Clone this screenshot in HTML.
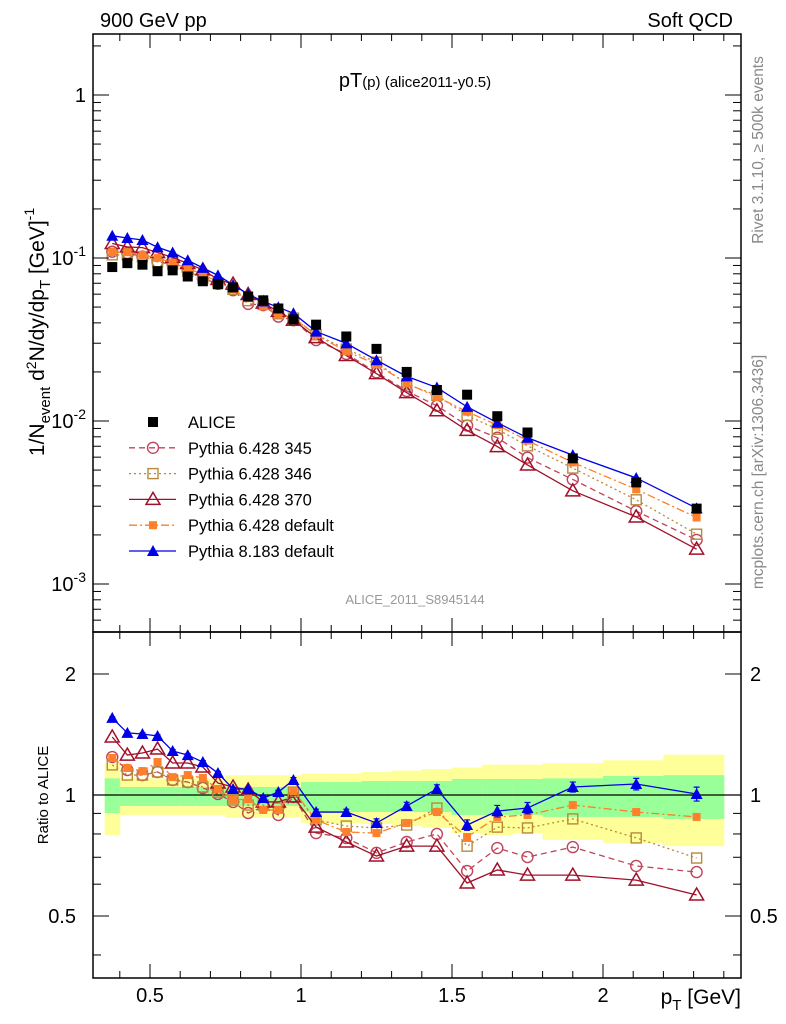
<!DOCTYPE html>
<html><head><meta charset="utf-8"><style>
html,body{margin:0;padding:0;background:#fff;}
svg{display:block;font-family:"Liberation Sans",sans-serif;}
</style></head><body>
<svg id="chart" width="786" height="1024" viewBox="0 0 786 1024">
<g id="bands"></g>
<line x1="93" x2="741" y1="795" y2="795" stroke="#000" stroke-width="1.3"/>
<g id="series"></g>
<g id="axes"></g>
<text x="100" y="27" font-size="20">900 GeV pp</text>
<text x="733" y="27" font-size="20" text-anchor="end">Soft QCD</text>
<text x="415" y="87" font-size="20" text-anchor="middle">pT<tspan font-size="15">(p)</tspan><tspan font-size="15"> (alice2011-y0.5)</tspan></text>
<text x="415" y="604" font-size="13" fill="#999" text-anchor="middle">ALICE_2011_S8945144</text>
<text transform="translate(763,150) rotate(-90)" font-size="15.5" fill="#888" text-anchor="middle">Rivet 3.1.10, ≥ 500k events</text>
<text transform="translate(763,472) rotate(-90)" font-size="15.5" fill="#888" text-anchor="middle">mcplots.cern.ch [arXiv:1306.3436]</text>
<text transform="translate(44,332) rotate(-90)" font-size="21" text-anchor="middle">1/N<tspan font-size="15" dy="6">event</tspan><tspan dy="-6"> d</tspan><tspan font-size="14" dy="-8">2</tspan><tspan dy="8">N/dy/dp</tspan><tspan font-size="15" dy="6">T</tspan><tspan dy="-6"> [GeV]</tspan><tspan font-size="14" dy="-10">-1</tspan></text>
<text transform="translate(48,795) rotate(-90)" font-size="15" text-anchor="middle">Ratio to ALICE</text>
<text x="741" y="1004" font-size="21" text-anchor="end">p<tspan font-size="15" dy="6">T</tspan><tspan dy="-6"> [GeV]</tspan></text>
<g id="legend"></g>
</svg>
<script>
const xVals=[0.375,0.425,0.475,0.525,0.575,0.625,0.675,0.725,0.775,0.825,0.875,0.925,0.975,1.05,1.15,1.25,1.35,1.45,1.55,1.65,1.75,1.9,2.11,2.31];
const binLo=[0.35,0.4,0.45,0.5,0.55,0.6,0.65,0.7,0.75,0.8,0.85,0.9,0.95,1.0,1.1,1.2,1.3,1.4,1.5,1.6,1.7,1.8,2.0,2.2];
const binHi=[0.4,0.45,0.5,0.55,0.6,0.65,0.7,0.75,0.8,0.85,0.9,0.95,1.0,1.1,1.2,1.3,1.4,1.5,1.6,1.7,1.8,2.0,2.2,2.4];
const alice=[0.088,0.093,0.091,0.083,0.084,0.077,0.072,0.069,0.066,0.058,0.055,0.049,0.042,0.039,0.033,0.0277,0.020,0.0155,0.0145,0.0107,0.0085,0.0059,0.0042,0.0029];
const r345=[1.243,1.154,1.121,1.141,1.09,1.077,1.041,1.006,0.961,0.902,0.934,0.892,0.989,0.804,0.782,0.718,0.764,0.8,0.647,0.738,0.701,0.742,0.666,0.643];
const r346=[1.188,1.121,1.121,1.141,1.09,1.077,1.047,1.017,0.972,0.944,0.944,0.928,1.017,0.867,0.837,0.828,0.842,0.928,0.746,0.832,0.828,0.872,0.782,0.697];
const r370=[1.394,1.257,1.272,1.301,1.201,1.201,1.174,1.071,1.047,1.029,0.961,0.961,0.989,0.832,0.764,0.705,0.746,0.746,0.604,0.651,0.632,0.632,0.614,0.564];
const rDef=[1.236,1.167,1.147,1.208,1.108,1.121,1.102,1.035,0.972,0.977,0.918,0.918,1.023,0.867,0.809,0.804,0.852,0.907,0.786,0.882,0.892,0.944,0.907,0.882];
const rP8=[1.555,1.427,1.418,1.402,1.287,1.257,1.208,1.134,1.035,1.035,0.983,1.017,1.09,0.907,0.907,0.852,0.939,1.035,0.842,0.912,0.928,1.047,1.065,1.006];
const errP8=[0.01,0.01,0.01,0.01,0.01,0.01,0.01,0.01,0.01,0.01,0.01,0.01,0.015,0.015,0.015,0.02,0.02,0.025,0.025,0.03,0.03,0.03,0.035,0.04];
const yelHi=[1.20,1.10,1.10,1.10,1.10,1.10,1.10,1.10,1.12,1.12,1.12,1.12,1.12,1.13,1.13,1.14,1.15,1.16,1.17,1.19,1.19,1.20,1.22,1.26];
const yelLo=[0.795,0.892,0.892,0.892,0.892,0.892,0.892,0.892,0.877,0.877,0.877,0.877,0.877,0.852,0.852,0.847,0.837,0.828,0.804,0.795,0.804,0.773,0.76,0.746];
const grnHi=[1.10,1.047,1.047,1.047,1.047,1.047,1.047,1.047,1.047,1.047,1.047,1.047,1.047,1.077,1.077,1.083,1.083,1.083,1.096,1.096,1.096,1.10,1.115,1.12];
const grnLo=[0.902,0.939,0.939,0.939,0.939,0.939,0.939,0.939,0.939,0.939,0.939,0.939,0.939,0.907,0.907,0.907,0.907,0.907,0.892,0.892,0.892,0.882,0.882,0.872];
const xTicks=[0.5,1,1.5,2];
const xTickLabels=["0.5","1","1.5","2"];
const yTicks=[0.001,0.01,0.1,1];
const rTicks=[0.5,1,2];
const rTickLabels=["0.5","1","2"];
const legendLabels=["ALICE","Pythia 6.428 345","Pythia 6.428 346","Pythia 6.428 370","Pythia 6.428 default","Pythia 8.183 default"];

const NS="http://www.w3.org/2000/svg";
const X=v=>150+(v-0.5)*302;
const Y=v=>95-163*Math.log10(v);
const R=v=>795-402*Math.log10(v);
function mk(tag,attrs,parent){const e=document.createElementNS(NS,tag);for(const k in attrs)e.setAttribute(k,attrs[k]);parent.appendChild(e);return e;}
const bands=document.getElementById('bands'),ser=document.getElementById('series'),axes=document.getElementById('axes'),leg=document.getElementById('legend');

for(let i=0;i<xVals.length;i++){
  const y=mk('rect',{x:X(binLo[i]),y:R(yelHi[i]),width:X(binHi[i])-X(binLo[i])+0.5,height:R(yelLo[i])-R(yelHi[i]),fill:'#ffff99'},bands);
  
  
  const g=mk('rect',{x:X(binLo[i]),y:R(grnHi[i]),width:X(binHi[i])-X(binLo[i])+0.5,height:R(grnLo[i])-R(grnHi[i]),fill:'#99ff99'},bands);
  
  
}

function marker(kind,cx,cy,col,parent){
  let e;
  if(kind==='sqfill')e=mk('rect',{x:cx-5,y:cy-5,width:10,height:10,fill:col},parent);
  else if(kind==='circ')e=mk('circle',{cx:cx,cy:cy,r:5.5,fill:'none',stroke:col,'stroke-width':1.4},parent);
  else if(kind==='sqopen')e=mk('rect',{x:cx-5,y:cy-5,width:10,height:10,fill:'none',stroke:col,'stroke-width':1.4},parent);
  else if(kind==='triopen')e=mk('path',{d:`M${cx},${cy-7}L${cx+7},${cy+5}L${cx-7},${cy+5}Z`,fill:'none',stroke:col,'stroke-width':1.5},parent);
  else if(kind==='sqsmall')e=mk('rect',{x:cx-4,y:cy-4,width:8,height:8,fill:col},parent);
  else e=mk('path',{d:`M${cx},${cy-6}L${cx+6},${cy+5}L${cx-6},${cy+5}Z`,fill:col},parent);
  return e;
}
const series=[
 {name:'pythia-6428-345',r:r345,col:'#c0445a',dash:'6,4',mk:'circ'},
 {name:'pythia-6428-346',r:r346,col:'#b8893a',dash:'2,3',mk:'sqopen'},
 {name:'pythia-6428-370',r:r370,col:'#a0102a',dash:'',mk:'triopen'},
 {name:'pythia-6428-default',r:rDef,col:'#ff7f2a',dash:'8,3,2,3',mk:'sqsmall'},
 {name:'pythia-8183-default',r:rP8,col:'#0000e6',dash:'',mk:'trifill'}
];
series.forEach(s=>{
  const mainPts=xVals.map((x,i)=>X(x)+','+Y(alice[i]*s.r[i])).join(' ');
  const ratPts=xVals.map((x,i)=>X(x)+','+R(s.r[i])).join(' ');
  const l1=mk('polyline',{points:mainPts,fill:'none',stroke:s.col,'stroke-width':1.3,'stroke-dasharray':s.dash},ser);
  
  
  const l2=mk('polyline',{points:ratPts,fill:'none',stroke:s.col,'stroke-width':1.3,'stroke-dasharray':s.dash},ser);
  
  
  xVals.forEach((x,i)=>{
    const m1=marker(s.mk,X(x),Y(alice[i]*s.r[i]),s.col,ser);
    
    
    const m2=marker(s.mk,X(x),R(s.r[i]),s.col,ser);
    
    
  });
});
xVals.forEach((x,i)=>{
  const eb=mk('path',{d:`M${X(x)},${R(rP8[i]+errP8[i])}V${R(rP8[i]-errP8[i])}M${X(x)-3},${R(rP8[i]+errP8[i])}h6M${X(x)-3},${R(rP8[i]-errP8[i])}h6`,stroke:'#0000e6','stroke-width':1.2,fill:'none'},ser);
  
  
});
xVals.forEach((x,i)=>{
  const m=marker('sqfill',X(x),Y(alice[i]),'#000',ser);
  
  
});

const f1=mk('rect',{x:93,y:34,width:648,height:598,fill:'none',stroke:'#000','stroke-width':1.5},axes);


const f2=mk('rect',{x:93,y:632,width:648,height:346,fill:'none',stroke:'#000','stroke-width':1.5},axes);


function tick(x1,y1,x2,y2){const t=mk('line',{x1,y1,x2,y2,stroke:'#000','stroke-width':1},axes);}
for(let k=4;k<=24;k++){const v=k/10;const px=X(v);const major=(k%5===0);const len=major?14:7;
  tick(px,632,px,632-len);tick(px,34,px,34+len);tick(px,978,px,978-len);tick(px,632,px,632+len);}
xTicks.forEach((v,i)=>{const t=mk('text',{x:X(v),y:1002,'font-size':20,'text-anchor':'middle'},axes);t.textContent=xTickLabels[i];
  });
for(let e=-4;e<=0;e++){for(let m=1;m<=9;m++){const v=m*Math.pow(10,e);const py=Y(v);if(py<34||py>632)continue;const len=m===1?16:8;
  tick(93,py,93+len,py);tick(741,py,741-len,py);}}
yTicks.forEach(v=>{const py=Y(v);const g=mk('text',{x:86,y:py+7,'font-size':20,'text-anchor':'end'},axes);
  
  if(v===1)g.textContent='1';else{const e=Math.round(Math.log10(v));g.innerHTML='10<tspan font-size="14" dy="-9">'+e+'</tspan>';}});
[0.4,0.5,0.6,0.7,0.8,0.9,1,2].forEach(v=>{const py=R(v);const len=(v===0.5||v===1||v===2)?16:8;tick(93,py,93+len,py);tick(741,py,741-len,py);});
rTicks.forEach((v,i)=>{const a=mk('text',{x:76,y:R(v)+7,'font-size':20,'text-anchor':'end'},axes);a.textContent=rTickLabels[i];
  
  const b=mk('text',{x:750,y:R(v)+7,'font-size':20},axes);b.textContent=rTickLabels[i];
  });

const legStyles=[{col:'#000',dash:null,mk:'sqfill'},...series.map(s=>({col:s.col,dash:s.dash,mk:s.mk}))];
legendLabels.forEach((lab,i)=>{const yy=422+i*25.8;
  const g=mk('g',{},leg);
  
  
  if(legStyles[i].dash!==null)mk('line',{x1:129,x2:176,y1:yy,y2:yy,stroke:legStyles[i].col,'stroke-width':1.3,'stroke-dasharray':legStyles[i].dash},g);
  marker(legStyles[i].mk,153,yy,legStyles[i].col,g);
  const t=mk('text',{x:188,y:yy+6,'font-size':16.5},g);t.textContent=lab;});
</script>
</body></html>
